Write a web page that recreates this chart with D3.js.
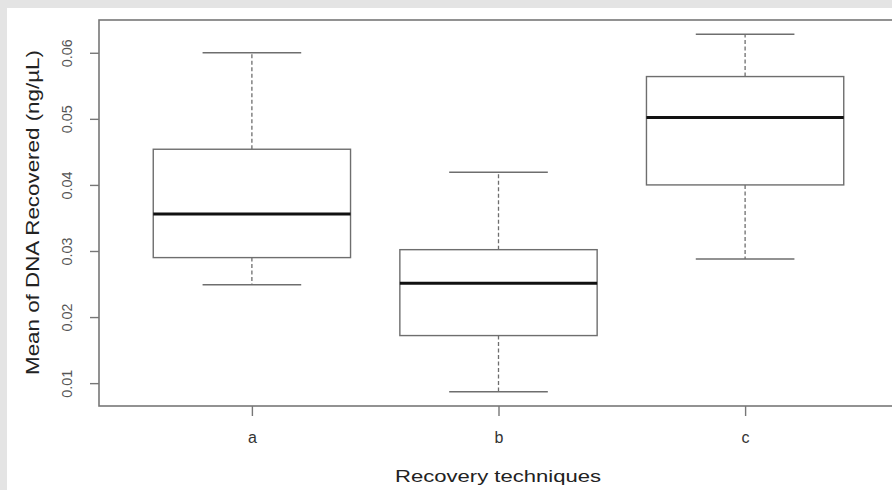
<!DOCTYPE html>
<html>
<head>
<meta charset="utf-8">
<script src="https://cdn.jsdelivr.net/npm/d3@7"></script>
<style>
  html, body { margin: 0; padding: 0; background: #e4e4e4; }
  svg { display: block; font-family: "Liberation Sans", Arial, sans-serif; }
</style>
</head>
<body>
<div id="chart"></div>
<script>
// Box statistics
const categories = ["a", "b", "c"];
const whiskerLow = [0.0249, 0.0087, 0.0288];
const q1 = [0.0290, 0.0172, 0.0400];
const median = [0.0356, 0.0251, 0.0502];
const q3 = [0.0454, 0.0302, 0.0564];
const whiskerHigh = [0.0600, 0.0419, 0.0628];
const yTicks = [0.01, 0.02, 0.03, 0.04, 0.05, 0.06];

const W = 892, H = 490;
const plot = { left: 99, top: 20, bottom: 406, right: 898 };

const boxes = categories.map((c, i) => ({
  cat: c, pos: i + 1,
  lo: whiskerLow[i], q1: q1[i], med: median[i], q3: q3[i], hi: whiskerHigh[i]
}));

const svg = d3.select("#chart").append("svg")
  .attr("width", W)
  .attr("height", H);

// white panel inside the gray frame
svg.append("rect")
  .attr("x", 7).attr("y", 8)
  .attr("width", W).attr("height", H)
  .attr("fill", "#fff");

// R style ranges: 4% padding on each side
const x = d3.scaleLinear().domain([0.38, 3.62]).range([plot.left, plot.right]);
const y = d3.scaleLinear().domain([0.00654, 0.06496]).range([plot.bottom, plot.top]);

const boxHalf = 0.4, capHalf = 0.2;
const lineCol = "#6e6e6e";

const g = svg.append("g");

// whiskers (dashed)
g.selectAll(".wh-up").data(boxes).join("line")
  .attr("x1", d => x(d.pos)).attr("x2", d => x(d.pos))
  .attr("y1", d => y(d.q3)).attr("y2", d => y(d.hi))
  .attr("stroke", lineCol).attr("stroke-width", 1.3)
  .attr("stroke-dasharray", "4,2.5");

g.selectAll(".wh-lo").data(boxes).join("line")
  .attr("x1", d => x(d.pos)).attr("x2", d => x(d.pos))
  .attr("y1", d => y(d.q1)).attr("y2", d => y(d.lo))
  .attr("stroke", lineCol).attr("stroke-width", 1.3)
  .attr("stroke-dasharray", "4,2.5");

// caps
["hi", "lo"].forEach(k => {
  g.selectAll(".cap-" + k).data(boxes).join("line")
    .attr("x1", d => x(d.pos - capHalf)).attr("x2", d => x(d.pos + capHalf))
    .attr("y1", d => y(d[k])).attr("y2", d => y(d[k]))
    .attr("stroke", lineCol).attr("stroke-width", 1.5);
});

// boxes
g.selectAll(".box").data(boxes).join("rect")
  .attr("x", d => x(d.pos - boxHalf))
  .attr("width", d => x(d.pos + boxHalf) - x(d.pos - boxHalf))
  .attr("y", d => y(d.q3))
  .attr("height", d => y(d.q1) - y(d.q3))
  .attr("fill", "#fff")
  .attr("stroke", lineCol).attr("stroke-width", 1.4);

// medians
g.selectAll(".med").data(boxes).join("line")
  .attr("x1", d => x(d.pos - boxHalf)).attr("x2", d => x(d.pos + boxHalf))
  .attr("y1", d => y(d.med)).attr("y2", d => y(d.med))
  .attr("stroke", "#111").attr("stroke-width", 3);

// plot frame
svg.append("rect")
  .attr("x", plot.left).attr("y", plot.top)
  .attr("width", plot.right - plot.left)
  .attr("height", plot.bottom - plot.top)
  .attr("fill", "none")
  .attr("stroke", "#777").attr("stroke-width", 1.6);

// y axis
const yAxis = svg.append("g")
  .attr("transform", `translate(${plot.left},0)`)
  .call(d3.axisLeft(y).tickValues(yTicks).tickSize(9).tickFormat(d3.format(".2f")));
yAxis.select(".domain").remove();
yAxis.selectAll(".tick line").attr("stroke", "#777").attr("stroke-width", 1.4);
yAxis.selectAll(".tick text")
  .attr("x", null).attr("dy", null)
  .attr("transform", "translate(-27,0) rotate(-90)")
  .attr("text-anchor", "middle")
  .attr("fill", "#555")
  .style("font-size", "15px")
  .attr("textLength", 28)
  .attr("lengthAdjust", "spacingAndGlyphs");

// x axis
const xAxis = svg.append("g")
  .attr("transform", `translate(0,${plot.bottom})`)
  .call(d3.axisBottom(x).tickValues(boxes.map(d => d.pos)).tickSize(10)
    .tickFormat(v => categories[v - 1]));
xAxis.select(".domain").remove();
xAxis.selectAll(".tick line").attr("stroke", "#777").attr("stroke-width", 1.4);
xAxis.selectAll(".tick text")
  .attr("y", 37).attr("dy", null)
  .attr("fill", "#333")
  .style("font-size", "16px");

// axis titles
svg.append("text")
  .attr("x", 498).attr("y", 482)
  .attr("text-anchor", "middle")
  .attr("fill", "#222")
  .style("font-size", "17px")
  .attr("textLength", 206)
  .attr("lengthAdjust", "spacingAndGlyphs")
  .text("Recovery techniques");

svg.append("text")
  .attr("transform", "translate(38.5,212.5) rotate(-90)")
  .attr("text-anchor", "middle")
  .attr("fill", "#222")
  .style("font-size", "17.5px")
  .attr("textLength", 325)
  .attr("lengthAdjust", "spacingAndGlyphs")
  .text("Mean of DNA Recovered (ng/µL)");
</script>
</body>
</html>
